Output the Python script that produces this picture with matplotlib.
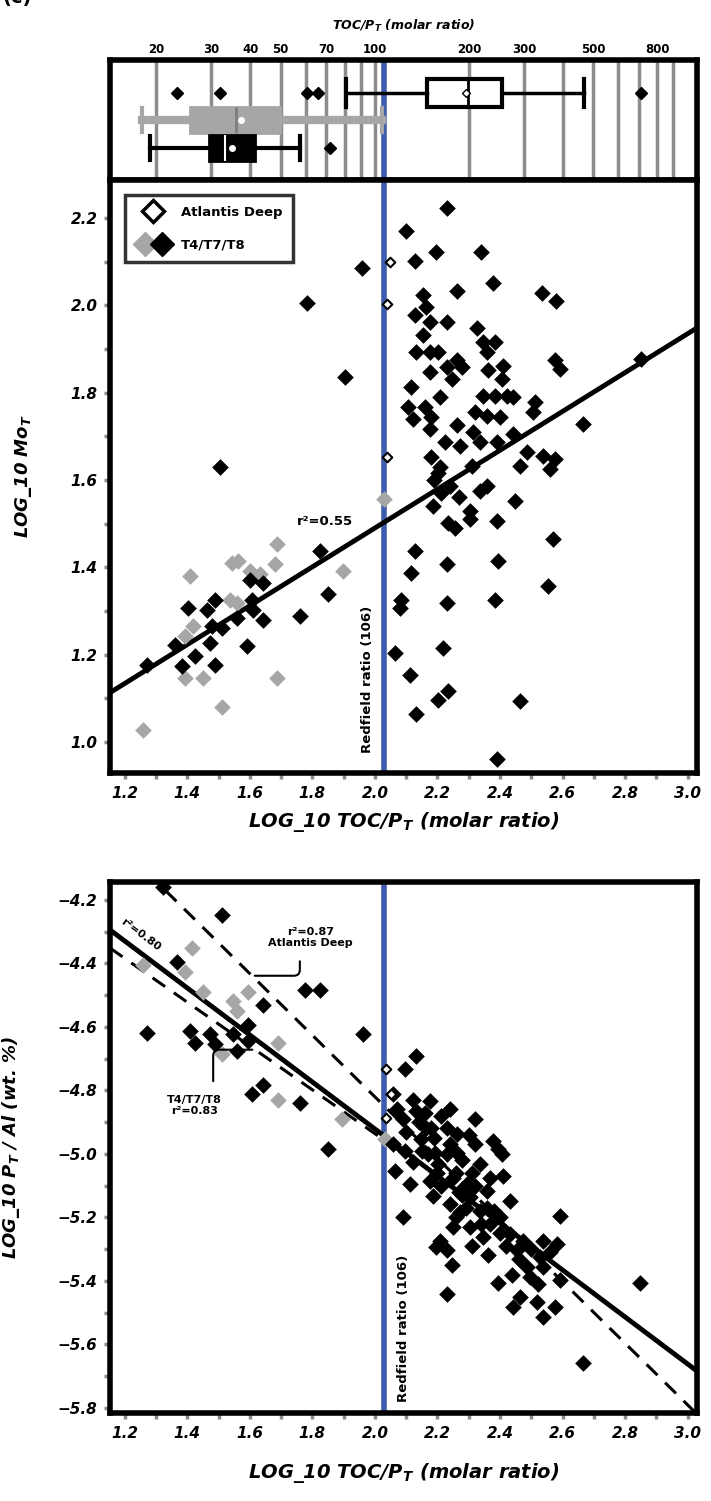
import numpy as np
import matplotlib
matplotlib.use("Agg")
import matplotlib.pyplot as plt
from matplotlib.ticker import MultipleLocator, FixedLocator, FixedFormatter
from matplotlib.lines import Line2D
from matplotlib.legend_handler import HandlerTuple

plt.rcParams['font.family'] = ['DejaVu Sans']
plt.rcParams['font.weight'] = 'bold'
plt.rcParams['mathtext.default'] = 'regular'

# ---------------- data ----------------
XLIM = (1.153, 3.03)
REDFIELD_LOG = 2.03          # log10 TOC/P of the Redfield ratio (106)

# panel 1: log10 Mo_T vs log10 TOC/P_T
mo_black_x = [2.099, 2.128, 1.958, 1.783, 1.905, 1.505,
              2.232, 2.197, 2.338, 2.378, 2.261, 2.535, 2.580, 2.154, 2.165, 2.128,
              2.176, 2.232, 2.154, 2.325, 2.346, 2.383, 2.357, 2.133, 2.176, 2.202,
              2.261, 2.277, 2.229, 2.176, 2.245, 2.363, 2.410, 2.405, 2.575, 2.591,
              2.117, 2.208, 2.346, 2.383, 2.421, 2.442, 2.106, 2.122, 2.160, 2.181,
              2.176, 2.319, 2.357, 2.399, 2.511, 2.506, 2.666, 2.261, 2.224, 2.272,
              2.314, 2.335, 2.389, 2.442, 2.181, 2.208, 2.309, 2.485, 2.463, 2.538,
              2.575, 2.559, 2.852,
              2.202, 2.240, 2.186, 2.234, 2.256, 2.303, 2.303, 2.357, 2.335, 2.389,
              2.447, 2.570, 2.128, 2.117, 2.229, 2.394, 2.085, 2.080, 2.229, 2.383,
              2.554, 2.064, 2.218, 2.112, 2.202, 2.234, 2.133, 2.463, 2.389,
              2.190, 2.270, 2.210,
              1.824, 1.851, 1.760, 1.601, 1.643, 1.606, 1.611, 1.643, 1.489, 1.462,
              1.404, 1.558, 1.478, 1.510, 1.473, 1.590, 1.425, 1.489, 1.382, 1.361,
              1.271]
mo_black_y = [2.170, 2.102, 2.085, 2.005, 1.837, 1.630,
              2.224, 2.122, 2.122, 2.051, 2.033, 2.028, 2.010, 2.024, 1.997, 1.977,
              1.962, 1.962, 1.931, 1.947, 1.916, 1.916, 1.893, 1.893, 1.893, 1.893,
              1.874, 1.859, 1.859, 1.847, 1.832, 1.851, 1.862, 1.832, 1.874, 1.855,
              1.813, 1.790, 1.793, 1.793, 1.793, 1.790, 1.767, 1.740, 1.767, 1.744,
              1.717, 1.755, 1.747, 1.744, 1.778, 1.755, 1.729, 1.725, 1.686, 1.678,
              1.709, 1.686, 1.686, 1.706, 1.652, 1.629, 1.632, 1.663, 1.632, 1.655,
              1.648, 1.625, 1.878,
              1.617, 1.586, 1.541, 1.502, 1.491, 1.529, 1.510, 1.586, 1.575, 1.506,
              1.552, 1.464, 1.437, 1.387, 1.407, 1.414, 1.326, 1.307, 1.318, 1.326,
              1.357, 1.204, 1.216, 1.154, 1.097, 1.116, 1.064, 1.093, 0.962,
              1.600, 1.560, 1.570,
              1.437, 1.338, 1.288, 1.372, 1.364, 1.326, 1.303, 1.280, 1.326, 1.303,
              1.307, 1.284, 1.265, 1.261, 1.227, 1.219, 1.196, 1.177, 1.173, 1.223,
              1.177]
mo_gray_x = [1.686, 1.681, 1.563, 1.542, 1.601, 1.633, 1.409, 1.537, 1.558,
             1.899, 1.419, 1.393, 1.393, 1.451, 1.686, 1.510, 1.260, 2.030]
mo_gray_y = [1.453, 1.407, 1.414, 1.410, 1.391, 1.384, 1.380, 1.326, 1.318,
             1.391, 1.265, 1.242, 1.146, 1.146, 1.146, 1.081, 1.028, 1.556]
mo_open_x = [2.048, 2.038, 2.038]
mo_open_y = [2.100, 2.002, 1.652]
MO_FIT = (0.445, 0.600)      # slope, intercept

# panel 2: log10 P_T/Al vs log10 TOC/P_T
pa_black_x = [1.510, 1.324, 1.366, 1.271, 1.409, 1.425, 1.473, 1.489, 1.547, 1.595,
              1.558, 1.595, 1.643, 1.776, 1.824, 1.963, 1.643, 1.606, 1.760, 1.851,
              2.133, 2.096, 2.320, 2.090, 2.064,
              2.059, 2.122, 2.176, 2.133, 2.213, 2.165, 2.229, 2.261, 2.149, 2.320,
              2.378, 2.405, 2.059, 2.096, 2.192, 2.261, 2.122, 2.202, 2.335, 2.112,
              2.176, 2.250, 2.293, 2.367, 2.186, 2.240, 2.303, 2.357, 2.431, 2.272,
              2.335, 2.591, 2.250, 2.303, 2.367, 2.208, 2.346, 2.431, 2.474, 2.538,
              2.581, 2.197, 2.229, 2.453, 2.362, 2.527, 2.245, 2.485, 2.538, 2.495,
              2.394, 2.591, 2.229, 2.463, 2.442, 2.517, 2.575, 2.538, 2.847, 2.666,
              2.140, 2.190, 2.240, 2.280, 2.310, 2.270, 2.210, 2.360, 2.400, 2.290,
              2.170, 2.300, 2.090, 2.410, 2.395,
              2.070, 2.100, 2.150, 2.180, 2.200, 2.230, 2.260, 2.280, 2.320, 2.340,
              2.380, 2.400, 2.420, 2.460, 2.500, 2.520, 2.560, 2.440, 2.260, 2.310,
              2.160, 2.240]
pa_black_y = [-4.248, -4.159, -4.395, -4.619, -4.614, -4.651, -4.623, -4.654, -4.623, -4.593,
              -4.677, -4.645, -4.530, -4.483, -4.483, -4.623, -4.782, -4.813, -4.839, -4.986,
              -4.693, -4.734, -4.891, -5.200, -5.053,
              -4.813, -4.829, -4.834, -4.865, -4.881, -4.918, -4.918, -4.939, -4.954, -4.970,
              -4.959, -5.001, -4.970, -4.991, -4.996, -4.996, -5.027, -5.033, -5.033, -5.095,
              -5.085, -5.075, -5.095, -5.075, -5.132, -5.158, -5.137, -5.116, -5.147, -5.184,
              -5.179, -5.195, -5.231, -5.231, -5.221, -5.273, -5.263, -5.252, -5.273, -5.273,
              -5.283, -5.294, -5.304, -5.304, -5.320, -5.325, -5.351, -5.356, -5.356, -5.387,
              -5.408, -5.398, -5.440, -5.450, -5.481, -5.466, -5.481, -5.513, -5.408, -5.660,
              -4.900, -4.950, -4.970, -5.020, -5.060, -5.120, -5.100, -5.170, -5.200, -5.170,
              -5.000, -4.940, -4.890, -5.070, -4.985,
              -4.860, -4.930, -4.990, -4.920, -5.060, -5.000, -5.060, -5.130, -5.100, -5.220,
              -5.180, -5.250, -5.290, -5.330, -5.300, -5.410, -5.310, -5.380, -5.200, -5.290,
              -4.870, -4.860]
pa_gray_x = [1.414, 1.260, 1.393, 1.451, 1.547, 1.595, 1.558, 1.510, 1.691, 1.691,
             1.894, 2.032]
pa_gray_y = [-4.353, -4.405, -4.426, -4.489, -4.520, -4.489, -4.551, -4.687, -4.651, -4.829,
             -4.891, -4.954]
pa_open_x = [2.037, 2.053, 2.037]
pa_open_y = [-4.734, -4.813, -4.886]
PA_FIT_ALL = (-0.740, -3.4416)
PA_FIT_AD = (-0.970, -2.8804)
PA_FIT_T = (-0.690, -3.5563)
PA_FIT_T_XMAX = 2.10

# box plots of log10 TOC/P_T
box_open = dict(med=2.297, q1=2.166, q3=2.406, whislo=1.907, whishi=2.668,
                mean=2.290, fliers=[1.367, 1.505, 1.783, 1.818, 2.850])
box_gray = dict(med=1.556, q1=1.409, q3=1.697, whislo=1.256, whishi=2.023,
                mean=1.572, fliers=[])
box_black = dict(med=1.521, q1=1.470, q3=1.617, whislo=1.282, whishi=1.760,
                 mean=1.543, fliers=[1.856])

grid_ratios = [20, 30, 40, 50, 60, 70, 80, 90, 100, 200, 300, 400, 500, 600, 700, 800, 900]
top_tick_ratios = [20, 30, 40, 50, 70, 100, 200, 300, 500, 800]

# ---------------- figure ----------------
W, H = 711, 1501
fig = plt.figure(figsize=(W / 100, H / 100), dpi=100)


def rect(l, t, r, b):
    return [l / W, 1 - b / H, (r - l) / W, (b - t) / H]


ax_box = fig.add_axes(rect(110, 60, 697, 180))
ax1 = fig.add_axes(rect(110, 180, 697, 773))
ax2 = fig.add_axes(rect(110, 882, 697, 1413))

BLUE = '#3d5cab'
GRAY = '#a6a6a6'
SPINE_LW = 4

for ax in (ax_box, ax1, ax2):
    for s in ax.spines.values():
        s.set_linewidth(SPINE_LW)
        s.set_color('black')
    ax.set_xlim(*XLIM)
    ax.axvline(REDFIELD_LOG, color=BLUE, lw=4, zorder=1.5)

# ---- box panel ----
ax_box.set_ylim(0, 1)
for r in grid_ratios:
    ax_box.axvline(np.log10(r), color='#8c8c8c', lw=2.5, zorder=0)

ax_box.bxp([box_open], positions=[0.725], widths=0.23, orientation='horizontal',
           patch_artist=True, showmeans=True, capwidths=0.23,
           boxprops=dict(facecolor='white', edgecolor='black', linewidth=3),
           whiskerprops=dict(color='black', lw=2.5),
           capprops=dict(color='black', lw=3),
           medianprops=dict(color='black', lw=2),
           meanprops=dict(marker='D', markerfacecolor='white', markeredgecolor='black',
                          markersize=4),
           flierprops=dict(marker='D', markerfacecolor='black', markeredgecolor='black',
                           markersize=6))
ax_box.bxp([box_gray], positions=[0.5], widths=0.22, orientation='horizontal',
           patch_artist=True, showmeans=True, capwidths=0.2,
           boxprops=dict(facecolor=GRAY, edgecolor=GRAY, linewidth=2),
           whiskerprops=dict(color=GRAY, lw=6),
           capprops=dict(color=GRAY, lw=3),
           medianprops=dict(color='#7d7d7d', lw=2),
           meanprops=dict(marker='o', markerfacecolor='white', markeredgecolor='white',
                          markersize=4))
ax_box.bxp([box_black], positions=[0.267], widths=0.22, orientation='horizontal',
           patch_artist=True, showmeans=True, capwidths=0.2,
           boxprops=dict(facecolor='black', edgecolor='black', linewidth=2),
           whiskerprops=dict(color='black', lw=3),
           capprops=dict(color='black', lw=3),
           medianprops=dict(color='white', lw=1.5),
           meanprops=dict(marker='o', markerfacecolor='white', markeredgecolor='white',
                          markersize=4),
           flierprops=dict(marker='D', markerfacecolor='black', markeredgecolor='black',
                           markersize=6))
ax_box.set_ylim(0, 1)
ax_box.set_yticks([])
ax_box.xaxis.tick_top()
ax_box.xaxis.set_major_locator(FixedLocator(np.log10(top_tick_ratios)))
ax_box.xaxis.set_major_formatter(FixedFormatter([str(v) for v in top_tick_ratios]))
ax_box.xaxis.set_minor_locator(FixedLocator([]))
ax_box.tick_params(axis='x', which='both', top=True, bottom=False, length=0,
                   labelsize=8.5, pad=3)
ax_box.xaxis.set_label_position('top')
ax_box.set_xlabel('TOC/P$_T$ (molar ratio)', fontsize=9, fontstyle='italic',
                  fontweight='bold', labelpad=9)

# ---- common axis styling ----
def style_axis(ax):
    ax.xaxis.set_major_locator(MultipleLocator(0.2))
    ax.xaxis.set_minor_locator(MultipleLocator(0.1))
    ax.yaxis.set_major_locator(MultipleLocator(0.2))
    ax.yaxis.set_minor_locator(MultipleLocator(0.1))
    ax.tick_params(which='both', direction='out', color='#8c8c8c', width=2.5,
                   length=4, labelsize=11, pad=5)
    for lab in ax.get_xticklabels() + ax.get_yticklabels():
        lab.set_fontweight('bold')
        lab.set_fontstyle('italic')


MARK = 72

# ---- panel 1 ----
ax1.set_ylim(0.929, 2.287)
xs = np.array(XLIM)
ax1.plot(xs, MO_FIT[0] * xs + MO_FIT[1], color='black', lw=3.5, zorder=2)
ax1.scatter(mo_gray_x, mo_gray_y, marker='D', s=MARK, color=GRAY, lw=0, zorder=3)
ax1.scatter(mo_black_x, mo_black_y, marker='D', s=MARK, color='black', lw=0, zorder=3)
ax1.scatter(mo_open_x, mo_open_y, marker='D', s=24, facecolor='white',
            edgecolor='black', lw=1.5, zorder=4)
ax1.text(1.84, 1.506, 'r²=0.55', fontsize=9.5, fontweight='bold', ha='center',
         va='center', zorder=5)
ax1.text(1.975, 1.143, 'Redfield ratio (106)', rotation=90, fontsize=9.5,
         fontweight='bold', ha='center', va='center', zorder=5)

h_open = Line2D([], [], marker='D', ls='none', mfc='white', mec='black', mew=2.5, ms=11)
h_gray = Line2D([], [], marker='D', ls='none', mfc=GRAY, mec=GRAY, ms=12)
h_black = Line2D([], [], marker='D', ls='none', mfc='black', mec='black', ms=12)
leg = ax1.legend([h_open, (h_gray, h_black)], ['Atlantis Deep', 'T4/T7/T8'],
                 handler_map={tuple: HandlerTuple(ndivide=None, pad=0)},
                 loc='upper left', bbox_to_anchor=(0.015, 0.985), frameon=True,
                 fancybox=False, edgecolor='black', fontsize=9.5, handlelength=2.6,
                 borderpad=0.8, labelspacing=1.5, handletextpad=0.8)
leg.get_frame().set_linewidth(2.5)
style_axis(ax1)
ax1.set_xlabel('LOG_10 TOC/P$_T$ (molar ratio)', fontsize=14, fontstyle='italic',
               fontweight='bold')
ax1.set_ylabel('LOG_10 Mo$_T$', fontsize=13, fontstyle='italic', fontweight='bold')
ax1.xaxis.set_label_coords(0.5, -0.062)
ax1.yaxis.set_label_coords(-0.13, 0.5)

# ---- panel 2 ----
ax2.set_ylim(-5.816, -4.144)
ax2.plot(xs, PA_FIT_ALL[0] * xs + PA_FIT_ALL[1], color='black', lw=3.5, zorder=2)
ax2.plot(xs, PA_FIT_AD[0] * xs + PA_FIT_AD[1], color='black', lw=2.2,
         ls=(0, (5, 3.5)), zorder=2)
xt = np.array([XLIM[0], PA_FIT_T_XMAX])
ax2.plot(xt, PA_FIT_T[0] * xt + PA_FIT_T[1], color='black', lw=2.2,
         ls=(0, (5, 3.5)), zorder=2)
ax2.scatter(pa_gray_x, pa_gray_y, marker='D', s=MARK, color=GRAY, lw=0, zorder=3)
ax2.scatter(pa_black_x, pa_black_y, marker='D', s=MARK, color='black', lw=0, zorder=3)
ax2.scatter(pa_open_x, pa_open_y, marker='D', s=24, facecolor='white',
            edgecolor='black', lw=1.5, zorder=4)
ax2.text(2.09, -5.549, 'Redfield ratio (106)', rotation=90, fontsize=9.5,
         fontweight='bold', ha='center', va='center', zorder=5)
ax2.text(1.25, -4.31, 'r²=0.80', rotation=-37, fontsize=8, fontweight='bold',
         ha='center', va='center', zorder=5)
ax2.text(1.793, -4.319, 'r²=0.87\nAtlantis Deep', fontsize=8, fontweight='bold',
         ha='center', va='center', linespacing=1.1, zorder=5)
ax2.text(1.422, -4.849, 'T4/T7/T8\nr²=0.83', fontsize=8, fontweight='bold',
         ha='center', va='center', linespacing=1.1, zorder=5)
xa = 1.607
ax2.annotate('', xy=(xa, PA_FIT_AD[0] * xa + PA_FIT_AD[1]), xytext=(1.76, -4.385),
             arrowprops=dict(arrowstyle='-', lw=1.5, color='black',
                             connectionstyle='angle,angleA=90,angleB=0,rad=6'))
xb = 1.617
ax2.annotate('', xy=(xb, PA_FIT_T[0] * xb + PA_FIT_T[1]), xytext=(1.483, -4.78),
             arrowprops=dict(arrowstyle='-', lw=1.5, color='black',
                             connectionstyle='angle,angleA=90,angleB=0,rad=6'))
style_axis(ax2)
ax2.set_xlabel('LOG_10 TOC/P$_T$ (molar ratio)', fontsize=14, fontstyle='italic',
               fontweight='bold')
ax2.set_ylabel('LOG_10 P$_T$ / Al (wt. %)', fontsize=13, fontstyle='italic',
               fontweight='bold')
ax2.xaxis.set_label_coords(0.5, -0.09)
ax2.yaxis.set_label_coords(-0.15, 0.5)

fig.text(2 / W, 1 + 3 / H, '(c)', fontsize=14, fontweight='bold', ha='left',
         va='center')

fig.savefig('out.png', dpi=100)
